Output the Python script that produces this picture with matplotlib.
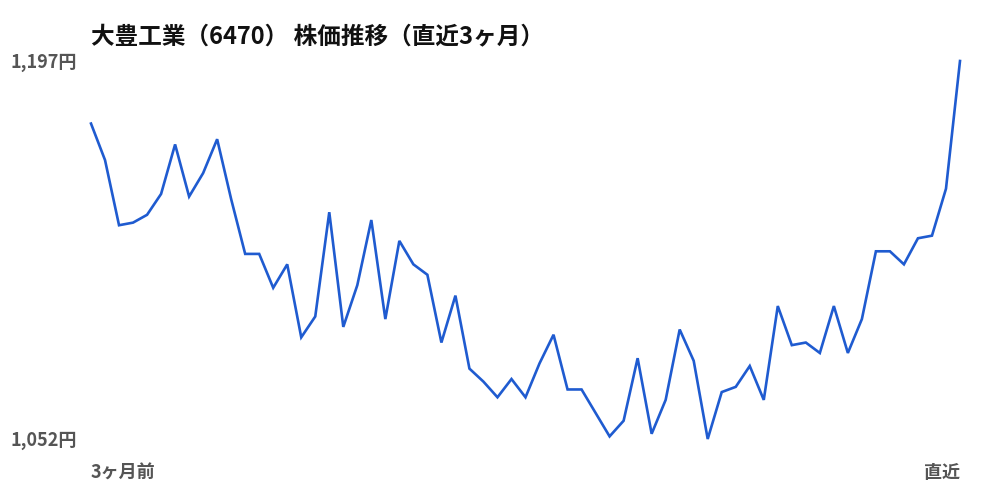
import matplotlib.pyplot as plt

# データ（直近3ヶ月の終値、円）
prices = [
    1173, 1159, 1134, 1135, 1138, 1146, 1165, 1145, 1154, 1167,
    1144, 1123, 1123, 1110, 1119, 1091, 1099, 1139, 1095, 1111,
    1136, 1098, 1128, 1119, 1115, 1089, 1107, 1079, 1074, 1068,
    1075, 1068, 1081, 1092, 1071, 1071, 1062, 1053, 1059, 1083,
    1054, 1067, 1094, 1082, 1052, 1070, 1072, 1080, 1067, 1103,
    1088, 1089, 1085, 1103, 1085, 1098, 1124, 1124, 1119, 1129,
    1130, 1148, 1197,
]
title = "大豊工業（6470） 株価推移（直近3ヶ月）"
x_labels = ["3ヶ月前", "直近"]

plt.rcParams["font.family"] = ["Noto Sans CJK JP", "DejaVu Sans"]

fig = plt.figure(figsize=(10, 5), dpi=100)
ax = fig.add_axes([0.091, 0.122, 0.869, 0.756])

xs = list(range(len(prices)))
ax.plot(xs, prices, color="#1f5bd0", linewidth=1.9, clip_on=False,
        solid_joinstyle="miter")

pmin, pmax = min(prices), max(prices)
ax.set_xlim(0, len(prices) - 1)
ax.set_ylim(pmin, pmax)
ax.axis("off")

# 軸ラベル（灰色・太字）
label_color = "#555555"
fig.text(0.01, 1 - 62 / 500, f"{pmax:,}円", ha="left", va="center",
         fontsize=13, fontweight="bold", color=label_color)
fig.text(0.01, 1 - 441 / 500, f"{pmin:,}円", ha="left", va="center",
         fontsize=13, fontweight="bold", color=label_color)
fig.text(0.091, 1 - 473 / 500, x_labels[0], ha="left", va="center",
         fontsize=13, fontweight="bold", color=label_color)
fig.text(0.960, 1 - 473 / 500, x_labels[1], ha="right", va="center",
         fontsize=13, fontweight="bold", color=label_color)

fig.text(0.091, 1 - 36 / 500, title, ha="left", va="center",
         fontsize=17, fontweight="bold", color="#111111")

fig.savefig("out.png", dpi=100, facecolor="white")
plt.close(fig)
